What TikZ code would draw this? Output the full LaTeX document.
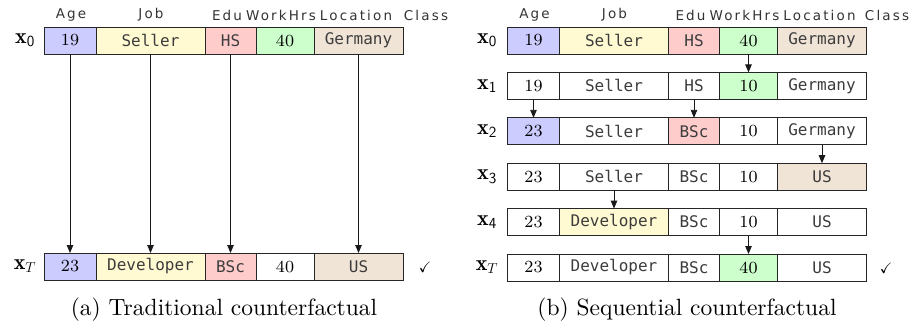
\documentclass[tikz,border=0pt]{standalone}
\usepackage{amssymb}
\usepackage{fontspec}
\newfontfamily\cellfont{DejaVu Sans Mono}
\newfontfamily\headfont[LetterSpace=16]{DejaVu Sans}
\newfontfamily\numfont{lmroman8-regular.otf}
\newfontfamily\capfont{lmroman10-regular.otf}
\usetikzlibrary{arrows.meta}
\definecolor{cAge}{RGB}{204,204,255}
\definecolor{cJob}{RGB}{255,250,210}
\definecolor{cEdu}{RGB}{255,204,204}
\definecolor{cHrs}{RGB}{204,255,204}
\definecolor{cLoc}{RGB}{240,228,214}
\definecolor{txtgray}{RGB}{60,60,60}
\tikzset{
  cell/.style={draw=black!85, line width=0.9pt, minimum height=27pt, inner sep=0pt, outer sep=0pt, anchor=west, fill=white},
  N/.style={node contents={\fontsize{17}{20}\selectfont\numfont #1}},
  T/.style={node contents={\fontsize{16}{19}\selectfont\cellfont\color{txtgray}#1}},
  head/.style={inner sep=0pt, font=\fontsize{13.5}{16}\selectfont\headfont, text=black!80},
  rowlab/.style={inner sep=0pt, font=\fontsize{22}{26}\selectfont},
  capt/.style={inner sep=0pt, font=\fontsize{23.5}{28}\selectfont\capfont},
  tick/.style={inner sep=0pt, font=\fontsize{15}{18}\selectfont},
  arr/.style={draw=black!90, line width=0.9pt, -{Triangle[length=8pt,width=6.5pt]}},
}
\newcommand\mkrow[8]{%
  \node (#1-age) at (#2,#3) [cell,minimum width=52pt,#4];
  \node (#1-job) at ({#2+52},#3) [cell,minimum width=109pt,#5];
  \node (#1-edu) at ({#2+161},#3) [cell,minimum width=51pt,#6];
  \node (#1-hrs) at ({#2+212},#3) [cell,minimum width=58pt,#7];
  \node (#1-loc) at ({#2+270},#3) [cell,minimum width=89pt,#8];
}
\begin{document}
\begin{tikzpicture}[x=1pt,y=-1pt]
\useasboundingbox (0,0) rectangle (912,329);
% headers
\foreach \nm/\xx/\tt in {age/71/Age, job/151/Job, edu/227/Edu, hrs/281/WorkHrs, loc/356/Location}{
  \node[head] (hL-\nm) at (\xx,15) {\tt};
  \node[head] (hR-\nm) at ({\xx+463.5},15) {\tt};
}
\node[head] (hL-cls) at (426,15) {Class};
\node[head] (hR-cls) at (887,15) {Class};
% ---------- left panel
\mkrow{L0}{44}{40.5}{fill=cAge,N=19}{fill=cJob,T=Seller}{fill=cEdu,T=HS}{fill=cHrs,N=40}{fill=cLoc,T=Germany}
\mkrow{LT}{44}{266.5}{fill=cAge,N=23}{fill=cJob,T=Developer}{fill=cEdu,T=BSc}{N=40}{fill=cLoc,T=US}
\node[rowlab] (lL0) at (25,40.5) {$\mathbf{x}_{\mathsf{0}}$};
\node[rowlab] (lLT) at (25,266.5) {$\mathbf{x}_{T}$};
\node[tick] (tickL) at (425,267) {$\checkmark$};
\foreach \c in {age,job,edu,loc}{\draw[arr] (L0-\c.south) -- (LT-\c.north);}
\node[capt] (capL) at (224,310) {(a) Traditional counterfactual};
% ---------- right panel
\mkrow{R0}{507.5}{40.5}{fill=cAge,N=19}{fill=cJob,T=Seller}{fill=cEdu,T=HS}{fill=cHrs,N=40}{fill=cLoc,T=Germany}
\mkrow{R1}{507.5}{85.9}{N=19}{T=Seller}{T=HS}{fill=cHrs,N=10}{T=Germany}
\mkrow{R2}{507.5}{131.3}{fill=cAge,N=23}{T=Seller}{fill=cEdu,T=BSc}{N=10}{T=Germany}
\mkrow{R3}{507.5}{176.7}{N=23}{T=Seller}{T=BSc}{N=10}{fill=cLoc,T=US}
\mkrow{R4}{507.5}{222.1}{N=23}{fill=cJob,T=Developer}{T=BSc}{N=10}{T=US}
\mkrow{RT}{507.5}{267.5}{N=23}{T=Developer}{T=BSc}{fill=cHrs,N=40}{T=US}
\node[rowlab] (lR0) at (487,40.5) {$\mathbf{x}_{\mathsf{0}}$};
\node[rowlab] (lR1) at (487,85.9) {$\mathbf{x}_{\mathsf{1}}$};
\node[rowlab] (lR2) at (487,131.3) {$\mathbf{x}_{\mathsf{2}}$};
\node[rowlab] (lR3) at (487,176.7) {$\mathbf{x}_{\mathsf{3}}$};
\node[rowlab] (lR4) at (487,222.1) {$\mathbf{x}_{\mathsf{4}}$};
\node[rowlab] (lRT) at (487,267.5) {$\mathbf{x}_{T}$};
\node[tick] (tickR) at (886,268) {$\checkmark$};
\draw[arr] (R0-hrs.south) -- (R1-hrs.north);
\draw[arr] (R1-age.south) -- (R2-age.north);
\draw[arr] (R1-edu.south) -- (R2-edu.north);
\draw[arr] (R2-loc.south) -- (R3-loc.north);
\draw[arr] (R3-job.south) -- (R4-job.north);
\draw[arr] (R4-hrs.south) -- (RT-hrs.north);
\node[capt] (capR) at (687,310) {(b) Sequential counterfactual};
\end{tikzpicture}
\end{document}
